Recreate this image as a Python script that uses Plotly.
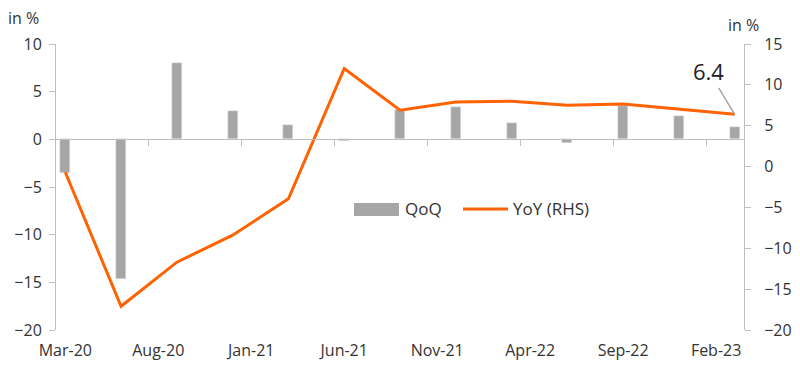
import pandas as pd
import plotly.graph_objects as go

# ---- data ----
months = [d.strftime("%b-%y") for d in pd.date_range("2020-03-01", "2023-03-01", freq="MS")]
tick_labels = ["Mar-20", "Aug-20", "Jan-21", "Jun-21", "Nov-21", "Apr-22", "Sep-22", "Feb-23"]
quarters = ["Mar-20", "Jun-20", "Sep-20", "Dec-20", "Mar-21", "Jun-21", "Sep-21",
            "Dec-21", "Mar-22", "Jun-22", "Sep-22", "Dec-22", "Mar-23"]
qoq = [-3.5, -14.7, 8.0, 3.0, 1.5, -0.2, 3.1, 3.4, 1.75, -0.4, 3.5, 2.5, 1.25]
yoy = [-0.7, -17.1, -11.7, -8.4, -3.95, 12.0, 6.9, 7.9, 8.0, 7.5, 7.65, 7.0, 6.4]

# ---- style ----
W, H = 800, 368
L, R, T, B = 56, 56, 44, 38
GRAY = "#a6a6a6"
AXIS = "#bfbfbf"
ORANGE = "#ff6200"
TXT = "#333333"
FONT = "Open Sans"
FS = 16

def px(x):
    return (x - L) / (W - L - R)

def py(y):
    return (H - B - y) / (H - T - B)

fig = go.Figure()
fig.add_trace(go.Bar(x=quarters, y=qoq, name="QoQ", marker_color=GRAY,
                     width=0.54, showlegend=False))
fig.add_trace(go.Scatter(x=quarters, y=yoy, name="YoY (RHS)", mode="lines",
                         line=dict(color=ORANGE, width=3), yaxis="y2",
                         showlegend=False))
# helper trace so the zero-line axis is drawn
fig.add_trace(go.Scatter(x=[None], y=[None], xaxis="x2", yaxis="y",
                         showlegend=False, hoverinfo="skip"))

n = len(months)
boundaries = [i - 0.5 for i in range(5, n, 5)]
ylo, yhi = -20, 10

fig.update_layout(
    width=W, height=H,
    margin=dict(l=L, r=R, t=T, b=B, autoexpand=False),
    paper_bgcolor="white", plot_bgcolor="white",
    font=dict(family=FONT, size=FS, color=TXT),
    bargap=0,
    xaxis=dict(type="category", categoryarray=months, categoryorder="array",
               range=[-0.5, n - 0.5], tickmode="array", tickvals=tick_labels,
               ticktext=tick_labels, showgrid=False, showline=False, ticks="",
               zeroline=False, ticklabelstandoff=9, automargin=False),
    xaxis2=dict(overlaying="x", anchor="free", position=(0 - ylo) / (yhi - ylo),
                range=[-0.5, n - 0.5], tickmode="array", tickvals=boundaries,
                showticklabels=False, ticks="outside", ticklen=6, tickcolor=AXIS,
                showline=True, linecolor=AXIS, linewidth=1, showgrid=False,
                zeroline=False, automargin=False),
    yaxis=dict(range=[ylo, yhi], dtick=5, showline=True, linecolor=AXIS,
               ticks="outside", ticklen=6, tickcolor=AXIS, showgrid=False,
               zeroline=False, ticklabelstandoff=4, automargin=False),
    yaxis2=dict(range=[-20, 15], dtick=5, overlaying="y", side="right",
                showline=True, linecolor=AXIS, ticks="outside", ticklen=6,
                tickcolor=AXIS, showgrid=False, zeroline=False,
                ticklabelstandoff=10, automargin=False),
)

annotations = [
    dict(x=quarters[-1], y=yoy[-1], xref="x", yref="y2", text=f"{yoy[-1]:.1f}",
         showarrow=True, arrowhead=0, arrowwidth=1.5, arrowcolor=GRAY,
         ax=-26, ay=-43, font=dict(size=22, color="#222222")),
    dict(x=px(6), y=py(18), xref="paper", yref="paper", text="in %",
         showarrow=False, xanchor="left", yanchor="middle", font=dict(size=FS)),
    dict(x=px(743), y=py(25), xref="paper", yref="paper", text="in %",
         showarrow=False, xanchor="center", yanchor="middle", font=dict(size=FS)),
    dict(x=px(403), y=py(209), xref="paper", yref="paper", text="QoQ",
         showarrow=False, xanchor="left", yanchor="middle", font=dict(size=17)),
    dict(x=px(511), y=py(209), xref="paper", yref="paper", text="YoY (RHS)",
         showarrow=False, xanchor="left", yanchor="middle", font=dict(size=17)),
]
shapes = [
    dict(type="rect", xref="paper", yref="paper", x0=px(354), x1=px(399),
         y0=py(216), y1=py(203), fillcolor=GRAY, line=dict(width=0)),
    dict(type="line", xref="paper", yref="paper", x0=px(463), x1=px(508),
         y0=py(209), y1=py(209), line=dict(color=ORANGE, width=3)),
]
fig.update_layout(annotations=annotations, shapes=shapes)

fig.write_html("out.html", config={"displayModeBar": False},
               post_script="document.body.style.margin='0';document.body.style.overflow='hidden';")
